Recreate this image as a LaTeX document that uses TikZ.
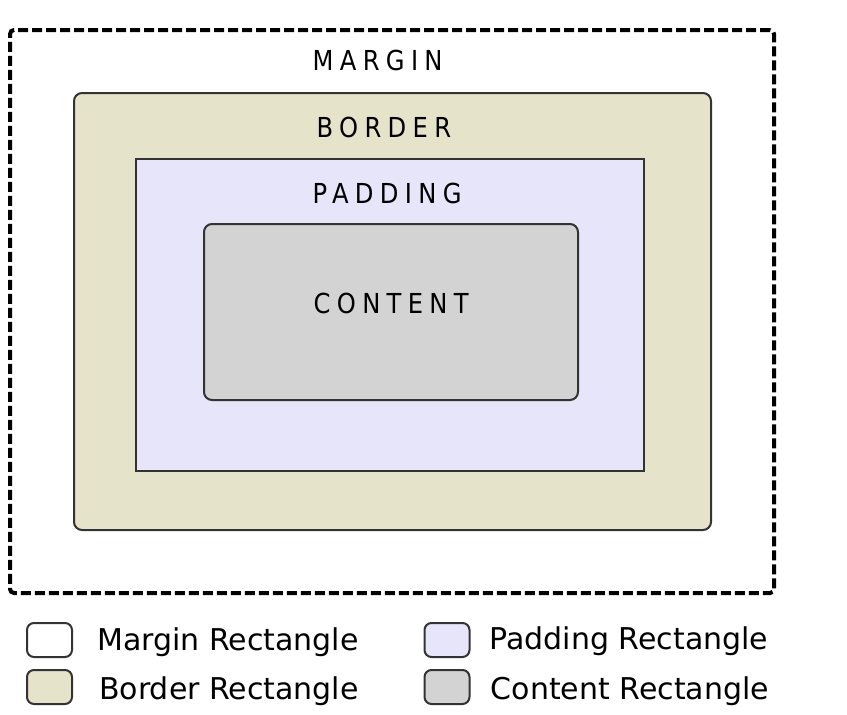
\documentclass[tikz,border=0pt]{standalone}
\usepackage{fontspec}
\setmainfont{DejaVu Sans}
\newfontfamily\titlefont[FakeStretch=0.88,LetterSpace=23]{DejaVu Sans}
\definecolor{borderfill}{HTML}{E5E3C9}
\definecolor{paddingfill}{HTML}{E6E5FA}
\definecolor{contentfill}{HTML}{D3D3D3}
\definecolor{edge}{HTML}{333333}
\tikzstyle{box}=[draw=edge,line width=2pt,inner sep=0pt,outer sep=0pt]
\tikzstyle{marginbox}=[draw=black,line width=4pt,dash pattern=on 10pt off 4pt,rounded corners=4pt,inner sep=0pt]
\tikzstyle{borderbox}=[box,fill=borderfill,rounded corners=8pt]
\tikzstyle{paddingbox}=[box,fill=paddingfill]
\tikzstyle{contentbox}=[box,fill=contentfill,rounded corners=8pt]
\tikzstyle{title}=[font=\titlefont\fontsize{27.5}{27.5}\selectfont,anchor=base west,inner sep=0pt]
\tikzstyle{key}=[box,rounded corners=7pt,minimum width=45pt,minimum height=34pt]
\tikzstyle{keytext}=[font=\fontsize{30}{30}\selectfont,anchor=base west,inner sep=0pt]

\begin{document}
\begin{tikzpicture}[x=1pt,y=-1pt]
    \useasboundingbox (0,0) rectangle (847,715);
    \node[marginbox,minimum width=764pt,minimum height=563pt] (margin) at (392,311.5) {};
    \node[borderbox,minimum width=637pt,minimum height=437pt] (border) at (392.5,311.5) {};
    \node[paddingbox,minimum width=508pt,minimum height=312pt] (padding) at (390,315) {};
    \node[contentbox,minimum width=374pt,minimum height=176pt] (content) at (391,312) {};
    \node[title] (marginlbl) at ([xshift=-79.5pt,yshift=-42pt]margin.north) {MARGIN};
    \node[title] (borderlbl) at ([xshift=-76pt,yshift=-44pt]border.north) {BORDER};
    \node[title] (paddinglbl) at ([xshift=-77.5pt,yshift=-44pt]padding.north) {PADDING};
    \node[title] (contentlbl) at ([xshift=-77.5pt,yshift=-89pt]content.north) {CONTENT};
    \node[key] (marginkey) at (49.5,640) {};
    \node[key,fill=borderfill] (borderkey) at (49.5,687) {};
    \node[key,fill=paddingfill] (paddingkey) at (447,640) {};
    \node[key,fill=contentfill] (contentkey) at (447,687) {};
    \node[keytext] (marginkeylbl) at ([xshift=25pt,yshift=-10pt]marginkey.east) {Margin Rectangle};
    \node[keytext] (borderkeylbl) at ([xshift=27pt,yshift=-12pt]borderkey.east) {Border Rectangle};
    \node[keytext] (paddingkeylbl) at ([xshift=20pt,yshift=-9pt]paddingkey.east) {Padding Rectangle};
    \node[keytext] (contentkeylbl) at ([xshift=21pt,yshift=-12pt]contentkey.east) {Content Rectangle};
\end{tikzpicture}
\end{document}
